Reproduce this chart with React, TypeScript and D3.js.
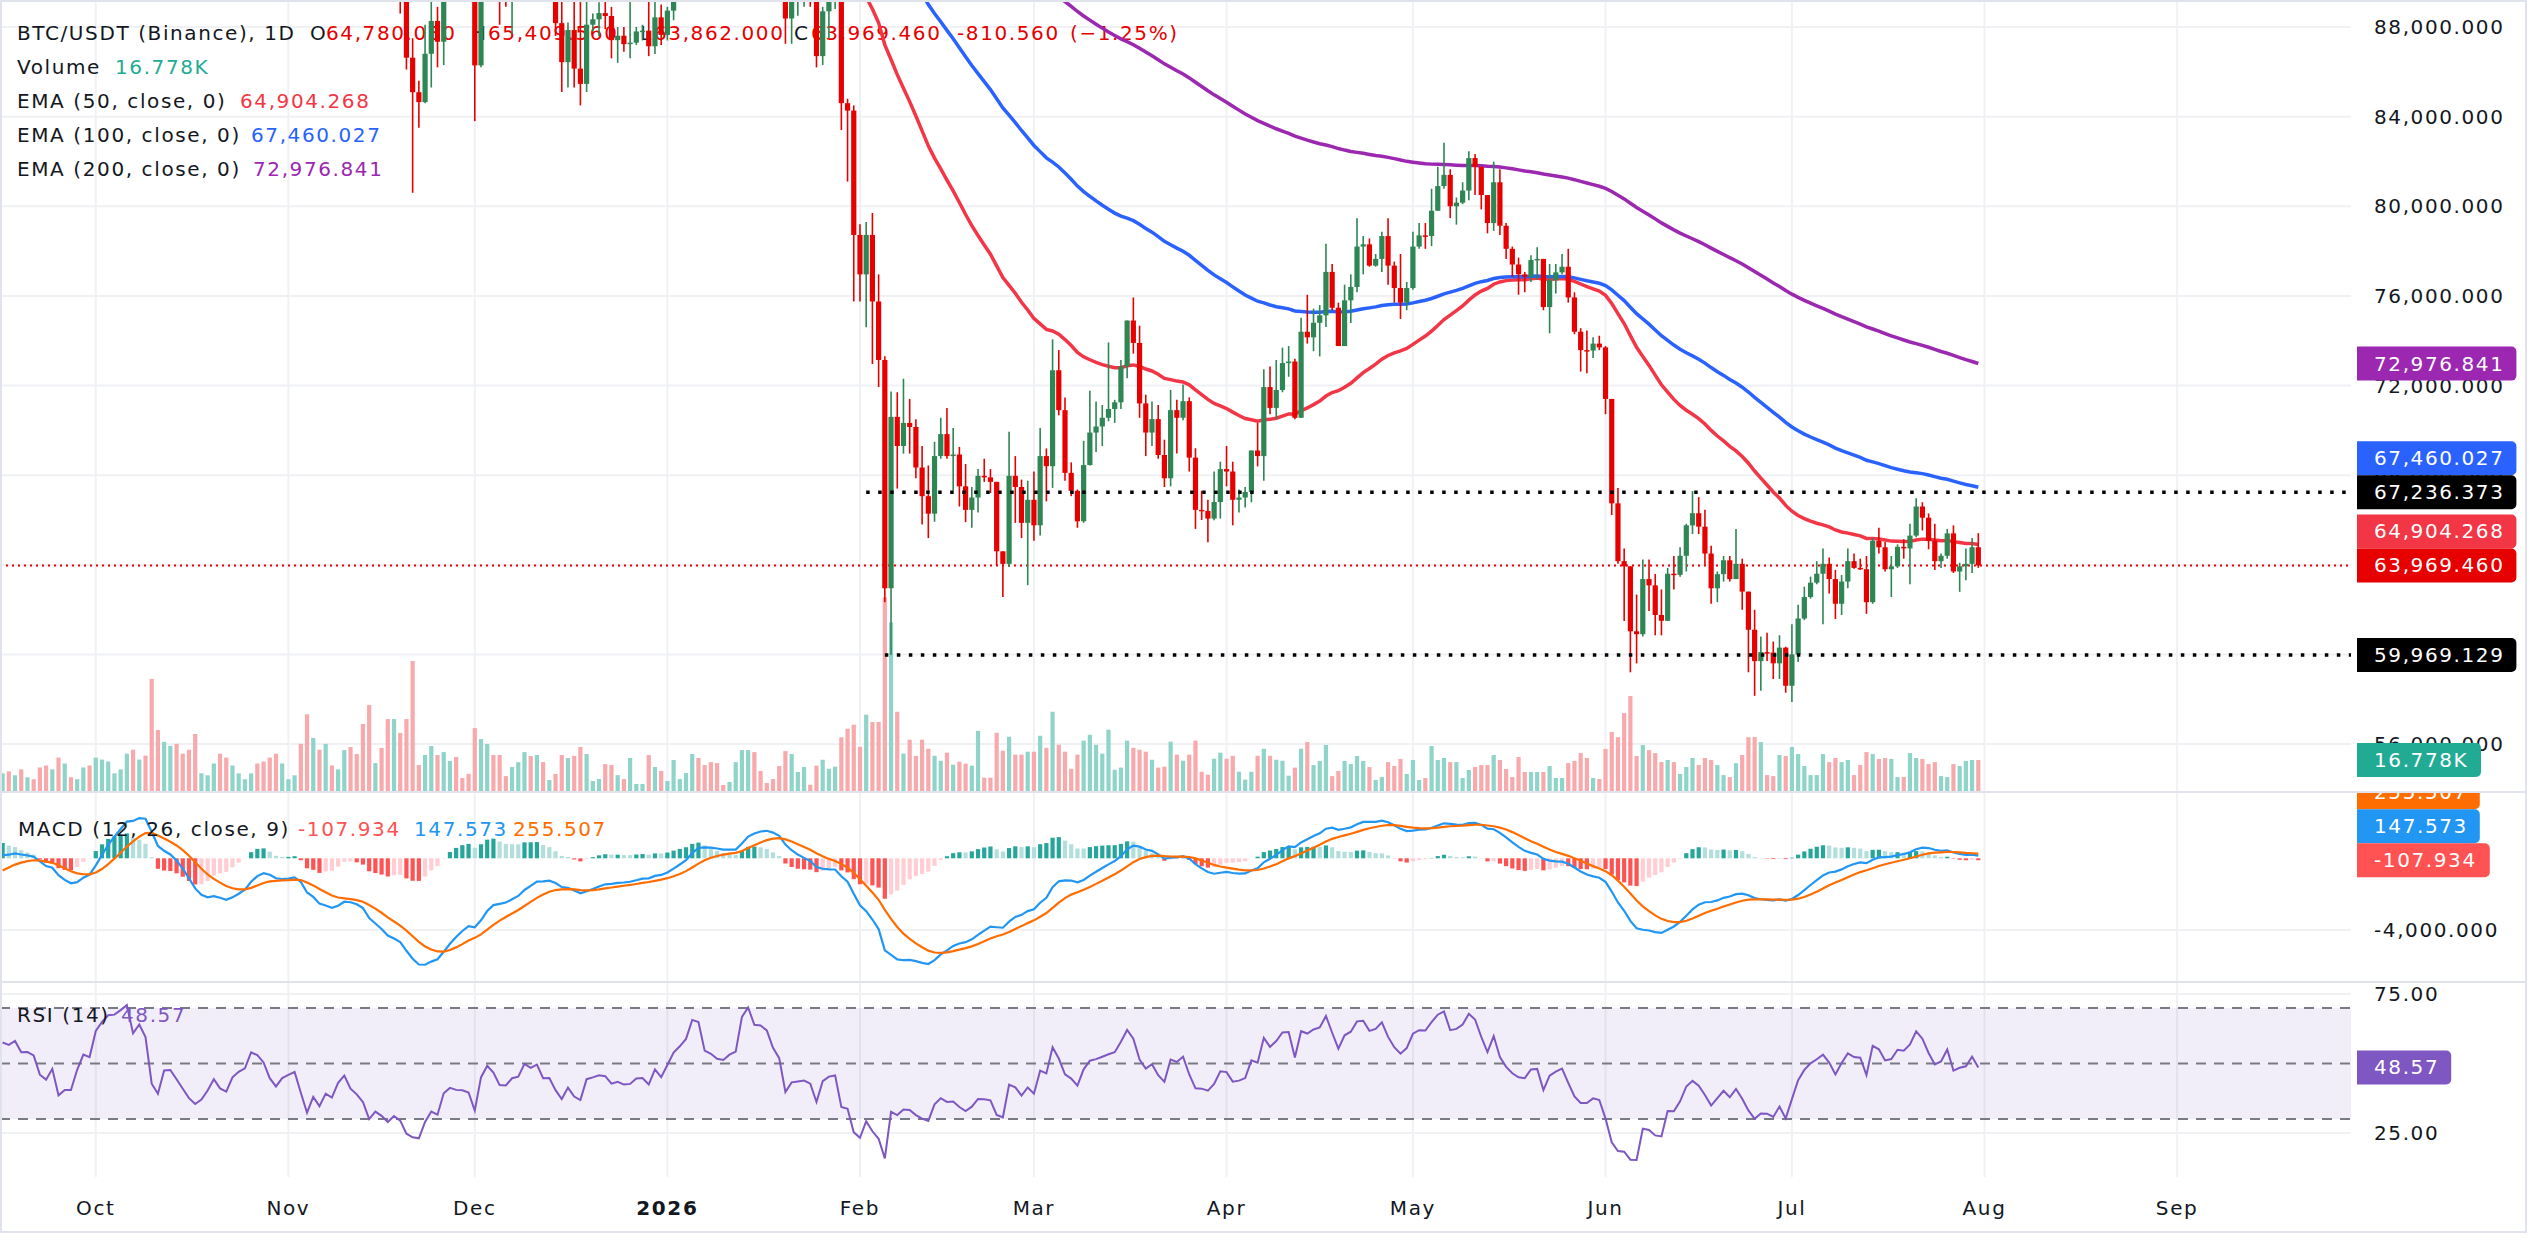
import React from "react";
import * as d3 from "d3";

// BTC/USDT daily candles from 2025-09-16 to 2026-07-31 (one value per day)
const firstDay = new Date(Date.UTC(2025, 8, 16));
const openBeforeFirst = 115268;

const closes = [
  116788, 116468, 117137, 115688, 115721, 115306, 112748, 112014, 113328, 108994,
  109643, 109635, 112163, 114400, 114056, 118648, 120681, 122266, 122425, 123514,
  124753, 121451, 123354, 121706, 113214, 110645, 115166, 115272, 113119, 110764,
  108186, 106467, 107199, 108667, 110588, 108476, 107689, 110069, 111033, 111641,
  114559, 114107, 112898, 110021, 108322, 109608, 110098, 110540, 106583, 101497,
  103885, 101346, 103339, 102312, 104719, 105996, 103059, 101654, 99692, 94397,
  95549, 94177, 92093, 92949, 91465, 86631, 85090, 84648, 86805, 88270,
  87342, 90484, 91333, 90891, 90802, 90360, 86287, 91278, 93430, 92078,
  89330, 89236, 90395, 90634, 92691, 92020, 92511, 90270, 90298, 88172,
  86432, 87863, 86143, 85462, 88103, 88344, 88621, 88490, 87414, 87611,
  87235, 87301, 87802, 87836, 87139, 88430, 87648, 88731, 89944, 90603,
  91413, 93876, 93710, 91280, 90980, 90500, 90390, 90890, 91170, 95380,
  97000, 95560, 95500, 95100, 93600, 92600, 88380, 89400, 89500, 89580,
  89200, 86700, 88700, 89180, 89300, 84600, 84270, 78720, 76960, 78720,
  75750, 73140, 62950, 70600, 69300, 70330, 70150, 68340, 67060, 66280,
  68850, 69830, 68850, 68920, 67500, 66450, 67000, 67970, 67900, 67700,
  64600, 64040, 67970, 67470, 65870, 66900, 65760, 68850, 68400, 72680,
  70900, 68100, 67300, 65940, 68450, 69900, 70170, 70560, 70950, 71250,
  72850, 74900, 73900, 71200, 69900, 70500, 68900, 67860, 70900, 70560,
  71300, 68780, 66450, 66400, 66060, 66800, 68270, 68160, 66900, 67000,
  67250, 69100, 68850, 71930, 71000, 71800, 73000, 73070, 70560, 74400,
  74150, 74800, 75130, 77070, 75470, 73760, 75800, 76400, 78200, 78300,
  77350, 77650, 78670, 77350, 76350, 75700, 76350, 78200, 78700, 78670,
  79800, 80900, 81400, 80000, 80160, 80700, 82150, 81760, 80500, 79250,
  81070, 79130, 78100, 77400, 76960, 76850, 77600, 77650, 75500, 76700,
  77050, 77300, 75930, 74400, 73580, 73560, 73870, 73700, 71400, 66740,
  64160, 63930, 61030, 60900, 63360, 63080, 61760, 61500, 63600, 63550,
  64400, 65760, 66300, 65700, 64500, 62950, 63580, 64200, 63360, 64040,
  62800, 61100, 59700, 60100, 60080, 59600, 60300, 58600, 60000, 61600,
  62560, 63200, 63600, 64040, 63360, 62260, 63250, 64160, 63860, 63800,
  62330, 65070, 64780, 63800, 63930, 64800, 64730, 65300, 66600, 66100,
  65070, 64160, 64400, 65400, 63700, 63930, 64040, 64780.02, 63969.46,
];

const highs = [
  117000, 117300, 117900, 117500, 116300, 116100, 115400, 113300, 114000, 113400,
  110200, 109800, 112300, 114500, 114800, 118700, 121000, 123900, 122900, 125100,
  126200, 125000, 124200, 123800, 122500, 113300, 115800, 116000, 115600, 113600,
  111300, 109200, 107600, 109400, 111700, 114000, 109200, 111300, 111900, 111900,
  115000, 116400, 116100, 113600, 111600, 111200, 110600, 111200, 110800, 106700,
  104500, 104200, 104100, 103600, 105000, 106700, 107000, 105300, 104000, 99800,
  96800, 96000, 96000, 93800, 93200, 93200, 87500, 85600, 88100, 89200,
  88900, 91000, 91900, 93100, 91200, 91900, 90400, 92300, 94200, 94100,
  92700, 90300, 91800, 92300, 94600, 94500, 93600, 92800, 90700, 90500,
  90100, 88200, 90400, 89500, 89400, 88600, 89100, 90600, 88900, 88000,
  88000, 89500, 88000, 88100, 90300, 89500, 89000, 88900, 90900, 90700,
  91800, 94800, 94500, 93700, 91500, 91900, 90800, 91200, 92400, 96000,
  97900, 97200, 95900, 95600, 95500, 93600, 92800, 90400, 90200, 89900,
  89800, 89300, 88900, 89500, 90500, 89400, 84800, 84500, 79200, 79300,
  79700, 76960, 73300, 71730, 71700, 72300, 71400, 70490, 69300, 68430,
  69490, 70560, 71000, 70100, 69260, 68500, 67470, 68270, 68730, 68270,
  67660, 64600, 69940, 68850, 67800, 67750, 68160, 70100, 69190, 74060,
  73580, 71470, 68570, 67360, 69530, 71770, 71290, 71130, 73920, 71360,
  73140, 74900, 75930, 74670, 71590, 71290, 71130, 69580, 71800, 71360,
  72050, 71470, 69200, 67300, 66900, 68160, 68600, 69300, 68600, 67360,
  67470, 69100, 70330, 72730, 72850, 73140, 73690, 73760, 73190, 75020,
  76050, 75430, 75590, 78330, 77420, 75700, 76500, 76960, 79470, 78670,
  78560, 77870, 78860, 79470, 77530, 77870, 76620, 78860, 79250, 79250,
  80780, 81760, 82830, 81650, 80390, 81070, 82450, 82330, 81760, 80500,
  81990, 81650, 79250, 78200, 77710, 77070, 77810, 78170, 77650, 77420,
  77420, 77870, 78100, 76160, 74560, 74450, 74150, 74220, 73760, 71400,
  67430, 64730, 63930, 62670, 64230, 64230, 63590, 62900, 63860, 64390,
  64780, 65830, 67290, 67020, 66450, 64850, 63700, 64390, 64390, 65600,
  64270, 62800, 61990, 60800, 60960, 60570, 60850, 60340, 61350, 62220,
  63020, 63470, 64160, 64730, 64320, 63770, 63540, 64730, 64500, 64270,
  64390, 65190, 65650, 65010, 64390, 64910, 65140, 65830, 66970, 66790,
  66290, 65830, 64500, 65600, 65760, 64090, 64730, 65190, 65409.56,
];

const lows = [
  114700, 114800, 116100, 115200, 115400, 114900, 112000, 111200, 111500, 108700,
  108600, 109100, 109300, 111600, 112700, 113900, 118300, 119300, 121600, 122200,
  123100, 120600, 121000, 119600, 102000, 109600, 109700, 113000, 109900, 110200,
  107500, 103500, 106300, 106100, 107500, 107400, 106700, 107500, 109700, 110700,
  111300, 113800, 112200, 109700, 106300, 108600, 109400, 109500, 105300, 98900,
  98900, 100300, 99300, 101500, 101400, 104300, 102500, 100800, 98000, 94000,
  94300, 93000, 91200, 89200, 88600, 86100, 80600, 83500, 84600, 85300,
  86200, 86300, 90100, 90200, 90300, 90300, 83800, 86200, 91100, 91800,
  88100, 88900, 87700, 89600, 89500, 91600, 89300, 89500, 89800, 87600,
  85100, 85300, 85300, 84500, 85100, 87800, 87600, 87900, 86600, 86400,
  86900, 86600, 87200, 87400, 86700, 86800, 87200, 87400, 88300, 89300,
  90500, 91000, 91500, 90500, 89300, 89900, 90000, 90200, 90000, 90900,
  94600, 94900, 94300, 94800, 93500, 91900, 87250, 87250, 88500, 88900,
  88900, 86200, 86300, 87500, 88800, 83400, 81100, 75750, 75750, 74600,
  72960, 71930, 62330, 59969.129, 67400, 68960, 68960, 67860, 65800, 65190,
  65920, 68730, 68730, 67300, 66600, 65900, 65650, 66330, 67700, 67200,
  63980, 62560, 63900, 65870, 65190, 63090, 65070, 65300, 66830, 67430,
  70670, 67750, 67060, 65650, 65870, 68430, 69030, 69300, 70400, 70330,
  70950, 72320, 73420, 70560, 68850, 69300, 68730, 67470, 67500, 68960,
  70450, 68160, 65600, 66000, 65000, 65990, 66060, 67500, 65760, 66330,
  66560, 66790, 68390, 67750, 70720, 70490, 71700, 72390, 70490, 70720,
  73870, 73530, 73300, 74610, 75360, 73760, 73760, 74790, 76160, 76960,
  77300, 77300, 77070, 76500, 75700, 74970, 75360, 76270, 78100, 78100,
  78220, 79820, 80780, 79470, 79180, 80090, 80270, 80500, 79860, 78790,
  78900, 78720, 77650, 76850, 76050, 76160, 76620, 76730, 75360, 74330,
  76110, 76960, 75700, 74290, 72620, 72550, 73230, 73580, 70720, 66220,
  64040, 61490, 59200, 59600, 60800, 61940, 60850, 60850, 61490, 62900,
  63470, 63700, 65370, 65370, 64000, 62260, 62330, 63250, 63250, 63360,
  61990, 59200, 58150, 58380, 59700, 58900, 58900, 58290, 57870, 59660,
  61530, 62490, 63130, 61350, 62720, 61580, 61760, 62950, 63820, 63770,
  61810, 62260, 64500, 63700, 62560, 63860, 64270, 63130, 65230, 65530,
  64690, 63770, 63860, 64270, 63630, 62790, 63310, 63630, 63862,
];

// volume in thousands of BTC
const volumesK = [
  10, 11, 9, 12, 8, 7, 13, 14, 12, 18,
  15, 8, 7, 13, 14, 18, 17, 16, 10, 12,
  20, 22, 17, 19, 58, 32, 26, 24, 25, 20,
  22, 30, 10, 9, 15, 20, 18, 14, 10, 7,
  10, 15, 16, 18, 20, 15, 7, 9, 25, 40,
  28, 22, 25, 14, 12, 21.8, 23.4, 19.8, 35.1, 44.7,
  15.2, 22.9, 37.6, 37.6, 30.5, 37.6, 67.1, 14.2, 19.3, 23.9,
  19.3, 20.8, 16.3, 18.3, 7.6, 9.7, 33.0, 27.4, 24.9, 19.3,
  19.3, 8.6, 13.2, 15.7, 20.8, 18.8, 19.3, 15.7, 6.6, 9.7,
  19.3, 17.8, 18.8, 23.4, 19.8, 6.1, 7.1, 14.7, 14.2, 9.1,
  7.1, 17.8, 4.6, 4.6, 19.3, 13.2, 11.2, 6.1, 16.8, 7.1,
  10.2, 19.8, 17.8, 14.2, 15.7, 15.2, 4.1, 5.6, 15.7, 21.8,
  21.8, 20.8, 11.2, 5.1, 7.1, 13.7, 21.3, 19.8, 10.7, 13.2,
  4.2, 13.9, 16.9, 12.3, 13.4, 28.3, 32.7, 34.7, 23.5, 39.8,
  36.1, 36.1, 99.6, 86.7, 41.3, 20.0, 27.1, 18.9, 27.1, 22.5,
  18.9, 16.4, 20.5, 14.4, 15.9, 14.9, 13.9, 31.6, 7.8, 7.8,
  30.6, 21.5, 28.6, 19.5, 19.5, 21.0, 21.0, 29.1, 23.0, 41.3,
  24.5, 21.0, 12.3, 19.5, 26.6, 29.6, 24.5, 20.0, 32.2, 11.8,
  12.9, 26.6, 23.0, 22.0, 21.0, 16.9, 12.9, 13.4, 26.1, 19.5,
  16.4, 19.5, 26.6, 10.8, 9.3, 17.4, 20.5, 17.4, 18.9, 10.8,
  6.8, 10.8, 18.9, 22.5, 18.9, 16.9, 16.4, 8.8, 12.9, 22.5,
  25.9, 14.2, 16.3, 24.4, 8.6, 11.2, 16.3, 14.7, 18.8, 16.3,
  13.2, 6.6, 8.1, 15.7, 13.7, 17.3, 9.7, 16.8, 6.6, 7.6,
  23.9, 16.8, 17.8, 15.7, 15.7, 7.6, 11.7, 13.2, 14.2, 14.2,
  19.3, 16.8, 12.2, 8.1, 18.3, 10.7, 10.7, 10.7, 10.7, 13.7,
  7.6, 7.6, 15.2, 16.3, 20.3, 17.8, 7.6, 7.1, 22.4, 31.0,
  28.4, 40.6, 49.3, 18.8, 24.4, 21.8, 20.3, 15.7, 16.8, 15.7,
  9.7, 13.2, 17.8, 14.2, 17.8, 16.8, 14.2, 9.1, 8.1, 15.2,
  19.3, 28.4, 28.4, 25.9, 9.1, 8.6, 19.3, 18.8, 23.4, 19.8,
  13.7, 9.1, 9.1, 19.8, 15.7, 17.8, 15.7, 16.8, 9.1, 14.2,
  20.8, 19.8, 17.3, 17.8, 17.3, 8.1, 8.1, 20.3, 17.8, 17.3,
  14.7, 15.7, 8.6, 8.1, 14.7, 13.7, 16.3, 16.8, 16.778,
];

const priceTicks = [88000, 84000, 80000, 76000, 72000, 68000, 64000, 60000, 56000];
const macdTicks = [-4000];
const rsiTicks = [75, 25];
const rsiLevels = [70, 50, 30];

const emaSpecs = [
  { period: 50, seed: 112800, color: "#F23645", last: 64904.268 },
  { period: 100, seed: 111500, color: "#2962FF", last: 67460.027 },
  { period: 200, seed: 103000, color: "#9C27B0", last: 72976.841 },
];

// horizontal rays drawn on the chart
const rays = [
  { value: 67236.373, from: new Date(Date.UTC(2026, 1, 2)) },
  { value: 59969.129, from: new Date(Date.UTC(2026, 1, 5)) },
];

const lastBar = { open: 64780.03, high: 65409.56, low: 63862.0, close: 63969.46 };
const lastChange = { abs: -810.56, pct: -1.25 };
const lastVolume = "16.778K";
const macdLast = { hist: -107.934, macd: 147.573, signal: 255.507 };
const rsiLast = 48.57;

// indicator state just before the first bar
const macdSeed = { fast: 115800, slow: 115700, signal: -900 };
const rsiSeed = { gain: 900, loss: 750 };

const W = 2530;
const H = 1253;
const PLOT_R = 2351;
const AXIS_X = 2357;
const TEXT_X = 2374;
const PRICE_B = 792;
const MACD_B = 982;
const RSI_B = 1177;
const FRAME_B = 1232;
const TAG_H = 34;

const FONT = "'DejaVu Sans', sans-serif";
const UP = "#2D8653";
const DOWN = "#E60000";
const GRID = "#F0F1F4";
const SEP = "#E0E3EB";
const INK = "#131722";

function ema(values: number[], period: number, seed: number) {
  const k = 2 / (period + 1);
  let prev = seed;
  return values.map((v) => (prev += k * (v - prev)));
}

function wilderRsi(values: number[], prevClose: number, gain0: number, loss0: number) {
  let g = gain0;
  let l = loss0;
  let prev = prevClose;
  return values.map((v) => {
    const ch = v - prev;
    prev = v;
    g = (g * 13 + Math.max(ch, 0)) / 14;
    l = (l * 13 + Math.max(-ch, 0)) / 14;
    return 100 - 100 / (1 + g / l);
  });
}

function charW(ch: string) {
  if (/[0-9]/.test(ch)) return 14.3;
  if (ch === "." || ch === ",") return 8;
  if (ch === "K") return 15.5;
  return 10;
}
const textW = (s: string) => s.split("").reduce((a, c) => a + charW(c), 0);

interface Tag { y: number; text: string; fill: string }

function stack(tags: Tag[]) {
  const out = [...tags].sort((a, b) => a.y - b.y);
  for (let i = out.length - 2; i >= 0; i--) {
    out[i].y = Math.min(out[i].y, out[i + 1].y - TAG_H);
  }
  return out;
}

function tagPath(y: number, w: number) {
  const r = 5;
  const top = y - TAG_H / 2;
  return `M${AXIS_X},${top}h${w - r}a${r},${r} 0 0 1 ${r},${r}v${TAG_H - 2 * r}a${r},${r} 0 0 1 ${-r},${r}h${-(w - r)}Z`;
}

function AxisTag({ tag }: { tag: Tag }) {
  const w = TEXT_X - AXIS_X + textW(tag.text) + 12;
  return (
    <g>
      <path d={tagPath(tag.y, w)} fill={tag.fill} />
      <text x={TEXT_X} y={tag.y + 7} fill="#fff" fontSize={20} letterSpacing={1.6}>
        {tag.text}
      </text>
    </g>
  );
}

export default function App() {
  const n = closes.length;
  const days = d3.range(n).map((i) => d3.utcDay.offset(firstDay, i));
  const bars = closes.map((c, i) => {
    const o = i === 0 ? openBeforeFirst : i === n - 1 ? lastBar.open : closes[i - 1];
    return {
      date: days[i],
      open: o,
      close: c,
      high: Math.max(highs[i], o, c),
      low: Math.min(lows[i], o, c),
      vol: volumesK[i],
    };
  });

  const x = d3.scaleUtc().domain([firstDay, days[n - 1]]).range([2.6, 1978.3]);
  const yPrice = d3.scaleLinear().domain([56000, 88000]).range([744, 27]);
  const yVol = d3.scaleLinear().domain([0, 16.778]).range([793, 760]);
  const yMacd = d3.scaleLinear().domain([-4000, 0]).range([930, 858.3]);
  const yRsi = d3.scaleLinear().domain([25, 75]).range([1133, 994]);

  const emas = emaSpecs.map((s) => ({ ...s, values: ema(closes, s.period, s.seed) }));
  const fast = ema(closes, 12, macdSeed.fast);
  const slow = ema(closes, 26, macdSeed.slow);
  const macd = fast.map((f, i) => f - slow[i]);
  const signal = ema(macd, 9, macdSeed.signal);
  const hist = macd.map((m, i) => m - signal[i]);
  const rsi = wilderRsi(closes, openBeforeFirst, rsiSeed.gain, rsiSeed.loss);

  const line = (ys: number[], scale: d3.ScaleLinear<number, number>) =>
    d3
      .line<number>()
      .x((_, i) => x(days[i]))
      .y((v) => scale(v))(ys) ?? "";

  const months = d3.utcMonth.range(new Date(Date.UTC(2025, 9, 1)), new Date(Date.UTC(2026, 8, 2)));
  const fmtPrice = d3.format(",.3f");
  const fmtNeg = (v: number) => "-" + d3.format(".3f")(Math.abs(v));

  const priceTags = stack([
    { y: yPrice(emaSpecs[2].last), text: fmtPrice(emaSpecs[2].last), fill: "#9C27B0" },
    { y: yPrice(emaSpecs[1].last), text: fmtPrice(emaSpecs[1].last), fill: "#2962FF" },
    { y: yPrice(rays[0].value), text: fmtPrice(rays[0].value), fill: "#000000" },
    { y: yPrice(emaSpecs[0].last), text: fmtPrice(emaSpecs[0].last), fill: "#F23645" },
    { y: yPrice(lastBar.close), text: fmtPrice(lastBar.close), fill: DOWN },
    { y: yPrice(rays[1].value), text: fmtPrice(rays[1].value), fill: "#000000" },
    { y: yVol(16.778), text: lastVolume, fill: "#22AB94" },
  ]);
  const macdTags = stack([
    { y: yMacd(macdLast.signal), text: d3.format(".3f")(macdLast.signal), fill: "#FF6D00" },
    { y: yMacd(macdLast.macd), text: d3.format(".3f")(macdLast.macd), fill: "#2196F3" },
    { y: yMacd(macdLast.hist), text: fmtNeg(macdLast.hist), fill: "#FF5252" },
  ]);

  const histColor = (i: number) => {
    const h = hist[i];
    const p = i > 0 ? hist[i - 1] : h;
    if (h >= 0) return h >= p ? "#26A69A" : "#B2DFDB";
    return h < p ? "#FF5252" : "#FFCDD2";
  };

  const legendRows = [
    { label: "Volume", value: lastVolume, color: "#22AB94", vx: 115 },
    { label: "EMA (50, close, 0)", value: fmtPrice(emaSpecs[0].last), color: "#F23645", vx: 240 },
    { label: "EMA (100, close, 0)", value: fmtPrice(emaSpecs[1].last), color: "#2962FF", vx: 251 },
    { label: "EMA (200, close, 0)", value: fmtPrice(emaSpecs[2].last), color: "#9C27B0", vx: 253 },
  ];

  return (
    <svg
      width={W}
      height={H}
      style={{ position: "absolute", left: 0, top: 0, background: "#fff" }}
      fontFamily={FONT}
    >
      <defs>
        <clipPath id="pricePane">
          <rect x={0} y={0} width={PLOT_R} height={PRICE_B} />
        </clipPath>
        <clipPath id="macdPane">
          <rect x={0} y={PRICE_B} width={PLOT_R} height={MACD_B - PRICE_B} />
        </clipPath>
        <clipPath id="rsiPane">
          <rect x={0} y={MACD_B} width={PLOT_R} height={RSI_B - MACD_B} />
        </clipPath>
        <clipPath id="macdAxis">
          <rect x={PLOT_R} y={PRICE_B + 1} width={W - PLOT_R} height={MACD_B - PRICE_B - 1} />
        </clipPath>
      </defs>
      <rect x={0} y={0} width={W} height={H} fill="#fff" />

      {/* grid */}
      <g stroke={GRID} strokeWidth={2}>
        {months.map((m) => (
          <line key={+m} x1={x(m)} x2={x(m)} y1={0} y2={RSI_B} />
        ))}
        {priceTicks.map((t) => (
          <line key={t} x1={0} x2={PLOT_R} y1={yPrice(t)} y2={yPrice(t)} />
        ))}
        {macdTicks.map((t) => (
          <line key={t} x1={0} x2={PLOT_R} y1={yMacd(t)} y2={yMacd(t)} />
        ))}
        {rsiTicks.map((t) => (
          <line key={t} x1={0} x2={PLOT_R} y1={yRsi(t)} y2={yRsi(t)} />
        ))}
      </g>

      {/* price pane */}
      <g clipPath="url(#pricePane)">
        <line
          x1={0}
          x2={PLOT_R}
          y1={yPrice(lastBar.close)}
          y2={yPrice(lastBar.close)}
          stroke={DOWN}
          strokeWidth={2}
          strokeDasharray="2 4"
        />
        {bars.map((b, i) => (
          <rect
            key={i}
            x={x(b.date) - 2.1}
            width={4.2}
            y={yVol(b.vol)}
            height={yVol(0) - yVol(b.vol)}
            fill={b.close >= b.open ? "#8FD4C9" : "#F8A9AC"}
          />
        ))}
        <text x={17} y={40} fontSize={20} letterSpacing={1.6} fill={INK}>
          <tspan>BTC/USDT (Binance), 1D</tspan>
          <tspan x={310}>O</tspan>
          <tspan x={326} fill={DOWN}>{fmtPrice(lastBar.open)}</tspan>
          <tspan x={471}>H</tspan>
          <tspan x={488} fill={DOWN}>{fmtPrice(lastBar.high)}</tspan>
          <tspan x={640}>L</tspan>
          <tspan x={654} fill={DOWN}>{fmtPrice(lastBar.low)}</tspan>
          <tspan x={794}>C</tspan>
          <tspan x={811} fill={DOWN}>{fmtPrice(lastBar.close)}</tspan>
          <tspan x={957} fill={DOWN}>{fmtNeg(lastChange.abs)}</tspan>
          <tspan x={1070} fill={DOWN}>
            {"(−" + d3.format(".2f")(Math.abs(lastChange.pct)) + "%)"}
          </tspan>
        </text>
        {legendRows.map((r, i) => (
          <text key={r.label} x={17} y={74 + i * 34} fontSize={20} letterSpacing={1.6} fill={INK}>
            <tspan>{r.label}</tspan>
            <tspan x={r.vx} fill={r.color}>{r.value}</tspan>
          </text>
        ))}
        {emas.map((e) => (
          <path key={e.period} d={line(e.values, yPrice)} fill="none" stroke={e.color} strokeWidth={3.5} />
        ))}
        {bars.map((b, i) => {
          const c = b.close >= b.open ? UP : DOWN;
          const cx = x(b.date);
          const yTop = yPrice(Math.max(b.open, b.close));
          const yBot = yPrice(Math.min(b.open, b.close));
          return (
            <g key={i}>
              <line x1={cx} x2={cx} y1={yPrice(b.high)} y2={yPrice(b.low)} stroke={c} strokeWidth={1.6} />
              <rect x={cx - 2.6} width={5.2} y={yTop} height={Math.max(1.5, yBot - yTop)} fill={c} />
            </g>
          );
        })}
        {rays.map((r) => (
          <line
            key={r.value}
            x1={x(r.from)}
            x2={PLOT_R}
            y1={yPrice(r.value)}
            y2={yPrice(r.value)}
            stroke="#000"
            strokeWidth={3.5}
            strokeDasharray="3.5 8.5"
          />
        ))}
      </g>

      {/* MACD pane */}
      <g clipPath="url(#macdPane)">
        {hist.map((h, i) => (
          <rect
            key={i}
            x={x(days[i]) - 2.1}
            width={4.2}
            y={Math.min(yMacd(h), yMacd(0))}
            height={Math.abs(yMacd(h) - yMacd(0))}
            fill={histColor(i)}
          />
        ))}
        <path d={line(macd, yMacd)} fill="none" stroke="#2196F3" strokeWidth={2.2} />
        <path d={line(signal, yMacd)} fill="none" stroke="#FF6D00" strokeWidth={2.2} />
      </g>
      <text x={18} y={836} fontSize={20} letterSpacing={1.6} fill={INK}>
        <tspan>MACD (12, 26, close, 9)</tspan>
        <tspan x={298} fill="#FF5252">{fmtNeg(macdLast.hist)}</tspan>
        <tspan x={414} fill="#2196F3">{d3.format(".3f")(macdLast.macd)}</tspan>
        <tspan x={513} fill="#FF6D00">{d3.format(".3f")(macdLast.signal)}</tspan>
      </text>

      {/* RSI pane */}
      <g clipPath="url(#rsiPane)">
        <rect
          x={0}
          width={PLOT_R}
          y={yRsi(70)}
          height={yRsi(30) - yRsi(70)}
          fill="#7E57C2"
          fillOpacity={0.1}
        />
        {rsiLevels.map((l) => (
          <line
            key={l}
            x1={0}
            x2={PLOT_R}
            y1={yRsi(l)}
            y2={yRsi(l)}
            stroke="#787B86"
            strokeWidth={2}
            strokeDasharray="10 8"
          />
        ))}
        <path d={line(rsi, yRsi)} fill="none" stroke="#7E57C2" strokeWidth={2} />
      </g>
      <text x={17} y={1022} fontSize={20} letterSpacing={1.6} fill={INK}>
        <tspan>RSI (14)</tspan>
        <tspan x={121} fill="#7E57C2">{d3.format(".2f")(rsiLast)}</tspan>
      </text>

      {/* right axis */}
      <g fontSize={20} letterSpacing={1.6} fill={INK}>
        {priceTicks.map((t) => (
          <text key={t} x={TEXT_X} y={yPrice(t) + 7}>
            {fmtPrice(t)}
          </text>
        ))}
        {macdTicks.map((t) => (
          <text key={t} x={TEXT_X} y={yMacd(t) + 7}>
            {"-" + fmtPrice(-t)}
          </text>
        ))}
        {rsiTicks.map((t) => (
          <text key={t} x={TEXT_X} y={yRsi(t) + 7}>
            {d3.format(".2f")(t)}
          </text>
        ))}
      </g>
      {priceTags.map((t) => (
        <AxisTag key={t.text} tag={t} />
      ))}
      <g clipPath="url(#macdAxis)">
        {macdTags.map((t) => (
          <AxisTag key={t.text} tag={t} />
        ))}
      </g>
      <AxisTag tag={{ y: yRsi(rsiLast), text: d3.format(".2f")(rsiLast), fill: "#7E57C2" }} />

      {/* time axis */}
      <g fontSize={20} letterSpacing={1.6} fill={INK} textAnchor="middle">
        {months.map((m) => (
          <text key={+m} x={x(m)} y={1215} fontWeight={m.getUTCMonth() === 0 ? "bold" : "normal"}>
            {m.getUTCMonth() === 0 ? d3.utcFormat("%Y")(m) : d3.utcFormat("%b")(m)}
          </text>
        ))}
      </g>

      {/* pane separators and frame */}
      <g stroke={SEP} strokeWidth={2} fill="none">
        <line x1={0} x2={W - 4} y1={PRICE_B} y2={PRICE_B} />
        <line x1={0} x2={W - 4} y1={MACD_B} y2={MACD_B} />
        <rect x={1} y={1} width={W - 5} height={FRAME_B - 1} />
      </g>
    </svg>
  );
}
